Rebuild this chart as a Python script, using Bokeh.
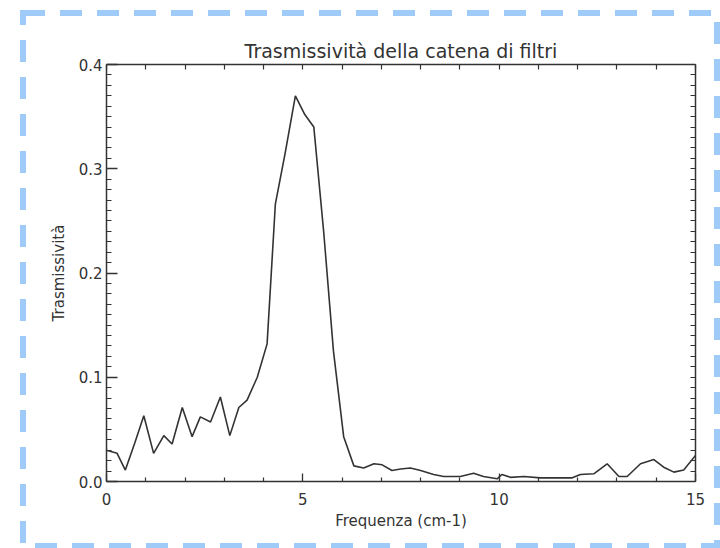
from bokeh.plotting import figure
from bokeh.models import (Range1d, LinearAxis, FixedTicker, PrintfTickFormatter,
                          InlineStyleSheet)
from bokeh.embed import file_html
from bokeh.resources import INLINE

# ---- data ----
freq = [0.0, 0.27, 0.48, 0.72, 0.95, 1.20, 1.46, 1.67, 1.93, 2.18, 2.39, 2.65,
        2.90, 3.14, 3.37, 3.58, 3.84, 4.09, 4.30, 4.55, 4.81, 5.05, 5.28, 5.53,
        5.78, 6.04, 6.30, 6.55, 6.81, 7.02, 7.27, 7.49, 7.74, 8.00, 8.33, 8.59,
        9.01, 9.35, 9.60, 9.95, 10.07, 10.29, 10.63, 11.05, 11.48, 11.86, 12.07,
        12.41, 12.75, 13.05, 13.26, 13.60, 13.94, 14.19, 14.45, 14.70, 15.0]
trans = [0.030, 0.027, 0.011, 0.037, 0.063, 0.027, 0.044, 0.036, 0.071, 0.043,
         0.062, 0.057, 0.081, 0.044, 0.071, 0.078, 0.100, 0.132, 0.266, 0.315,
         0.370, 0.352, 0.340, 0.240, 0.125, 0.043, 0.015, 0.013, 0.017, 0.016,
         0.0105, 0.012, 0.013, 0.0105, 0.0067, 0.0048, 0.0048, 0.008, 0.0048,
         0.0026, 0.0067, 0.004, 0.0048, 0.0035, 0.0035, 0.0035, 0.0067, 0.0074,
         0.017, 0.0048, 0.0048, 0.017, 0.021, 0.0137, 0.009, 0.011, 0.025]

x_major = [0, 5, 10, 15]
y_major = [0.0, 0.1, 0.2, 0.3, 0.4]
x_minor = [v for v in range(0, 16) if v % 5 != 0]
y_minor = [round(i * 0.01, 2) for i in range(0, 41) if i % 10 != 0]

title_text = "Trasmissività della catena di filtri"
x_label = "Frequenza (cm-1)"
y_label = "Trasmissività"

FONT = "DejaVu Sans"
INK = "#333333"

p = figure(width=720, height=548, output_backend="svg", toolbar_location=None,
           x_range=Range1d(0, 15), y_range=Range1d(0, 0.4),
           min_border_left=106, min_border_right=25,
           min_border_top=64, min_border_bottom=67,
           x_axis_label=x_label, y_axis_label=y_label)
p.outline_line_color = None
p.xgrid.visible = False
p.ygrid.visible = False
p.background_fill_color = "white"
p.border_fill_color = "white"

p.title.text = title_text
p.title.align = "center"
p.title.text_font = FONT
p.title.text_font_size = "19px"
p.title.text_font_style = "normal"
p.title.text_color = INK
p.title.standoff = 6


def style_axis(ax, maj, mnr):
    ax.axis_line_color = INK
    ax.axis_line_width = 1.5
    ax.major_tick_line_color = INK
    ax.minor_tick_line_color = INK
    ax.major_tick_line_width = 1.3
    ax.minor_tick_line_width = 1.2
    ax.major_tick_in = maj
    ax.major_tick_out = 0
    ax.minor_tick_in = mnr
    ax.minor_tick_out = 0
    ax.major_label_text_font = FONT
    ax.major_label_text_color = INK
    ax.major_label_text_font_size = "15px"
    ax.axis_label_text_font = FONT
    ax.axis_label_text_color = INK
    ax.axis_label_text_font_style = "normal"
    ax.axis_label_text_font_size = "15px"


xa = p.xaxis[0]
xa.ticker = FixedTicker(ticks=x_major, minor_ticks=x_minor)
style_axis(xa, 8, 4)
xa.major_label_standoff = 11
xa.axis_label_standoff = 4

ya = p.yaxis[0]
ya.ticker = FixedTicker(ticks=y_major, minor_ticks=y_minor)
ya.formatter = PrintfTickFormatter(format="%.1f")
style_axis(ya, 11, 5)
ya.major_label_standoff = 4
ya.axis_label_standoff = 8

# mirrored tick-only axes (no labels): all tick marks given as minor ticks
top = LinearAxis(ticker=FixedTicker(ticks=[], minor_ticks=x_major + x_minor))
style_axis(top, 8, 5)
top.major_label_standoff = 0
p.add_layout(top, "above")

right = LinearAxis(ticker=FixedTicker(ticks=[], minor_ticks=y_major + y_minor))
style_axis(right, 11, 5)
right.major_label_standoff = 0
p.add_layout(right, "right")

p.line(freq, trans, line_color=INK, line_width=1.6)

# dashed light-blue frame around the whole picture (page decoration)
svg = ("data:image/svg+xml;utf8,<svg xmlns='http://www.w3.org/2000/svg' "
       "width='720' height='548'><rect x='23' y='13' width='694' height='533' "
       "fill='none' stroke='%239fcbf8' stroke-width='6' "
       "stroke-dasharray='22 15'/></svg>")
css = InlineStyleSheet(css=(
    ":host { position: relative; }\n"
    ":host::after { content: ''; position: absolute; left: 0; top: 0; "
    "width: 720px; height: 548px; pointer-events: none; "
    "background-image: url(\"" + svg + "\"); background-repeat: no-repeat; }"
))
p.stylesheets = [css]

open("out.html", "w").write(file_html(p, INLINE))
